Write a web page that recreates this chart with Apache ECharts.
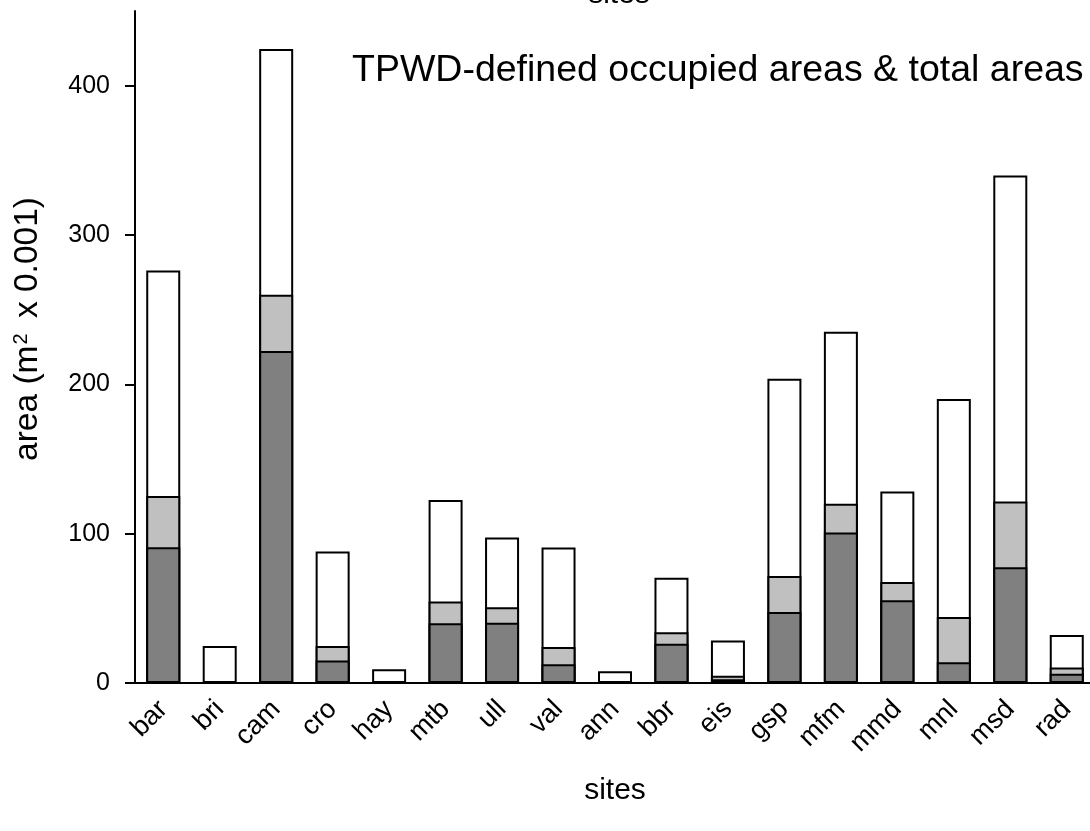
<!DOCTYPE html>
<html>
<head>
<meta charset="utf-8">
<script src="https://cdn.jsdelivr.net/npm/echarts@6/dist/echarts.min.js"></script>
<style>
    html, body { margin: 0; padding: 0; background: #fff; }
    #chart { width: 1090px; height: 831px; }
</style>
</head>
<body>
<div id="chart"></div>
<script>
// sites along the x axis
var sites = ['bar', 'bri', 'cam', 'cro', 'hay', 'mtb', 'ull', 'val', 'ann',
    'bbr', 'eis', 'gsp', 'mfm', 'mmd', 'mnl', 'msd', 'rad'];
// total areas (white bars)
var totalArea = [276.3, 24.8, 424.6, 88, 9.2, 122.6, 97.4, 90.8, 7.8,
    70.4, 28.4, 203.7, 235.2, 128.2, 190.1, 339.9, 32.2];
// occupied areas (light grey)
var occupiedArea = [125.3, 1.2, 260, 24.8, 0.6, 54.5, 50.7, 24.1, 0.3,
    34, 4.9, 71.7, 120, 67.7, 44.2, 121.5, 10.3];
// TPWD-defined areas (dark grey)
var definedArea = [90.9, 0.8, 222.4, 15, 0.4, 40, 40.4, 12.5, 0.2,
    26.3, 2.5, 47.6, 100.7, 55.4, 13.9, 77.5, 6.2];
var yTicks = [0, 100, 200, 300, 400];

var font = '"Liberation Sans", Arial, sans-serif';
var chart = echarts.init(document.getElementById('chart'));

function barSeries(name, data, color) {
    return {
        name: name,
        type: 'bar',
        data: data,
        barWidth: 34,
        barGap: '-100%',
        itemStyle: {color: color, borderColor: '#000', borderWidth: 2},
        emphasis: {disabled: true},
        animation: false
    };
}

var option = {
    backgroundColor: '#fff',
    textStyle: {fontFamily: font, color: '#000'},
    graphic: [
        {
            // top label, mostly off the page
            type: 'text', x: 619, y: 10,
            style: {text: 'sites', font: '30px ' + font, fill: '#000',
                textAlign: 'center', textVerticalAlign: 'bottom'}
        },
        {
            type: 'text', x: 352, y: 90,
            style: {text: 'TPWD-defined occupied areas & total areas', font: '37.5px ' + font, fill: '#000',
                textAlign: 'left', textVerticalAlign: 'bottom'}
        },
        {
            type: 'text', x: 28, y: 329, rotation: Math.PI / 2,
            style: {
                text: 'area (m{sup|2} x 0.001)',
                font: '33.5px ' + font, fill: '#000',
                textAlign: 'center', textVerticalAlign: 'middle',
                rich: {sup: {fontSize: 20, fontFamily: font, verticalAlign: 'top', padding: [0, 6, 0, 1]}}
            }
        }
    ],
    grid: {left: 135, top: 11, width: 960, height: 672, containLabel: false, outerBoundsMode: 'none'},
    xAxis: {
        type: 'category',
        data: sites,
        name: 'sites',
        nameLocation: 'middle',
        nameGap: 93,
        nameTextStyle: {fontSize: 30, color: '#000', fontFamily: font},
        axisLine: {lineStyle: {color: '#000', width: 2}},
        axisTick: {alignWithLabel: true, length: 10, lineStyle: {color: '#000', width: 2}},
        axisLabel: {rotate: 45, fontSize: 27, color: '#000', margin: 22, padding: [14, 0, 0, 0], fontFamily: font}
    },
    yAxis: {
        type: 'value',
        min: 0,
        max: 450,
        interval: 100,
        splitLine: {show: false},
        axisLine: {show: true, lineStyle: {color: '#000', width: 2}},
        axisTick: {show: true, length: 10, customValues: yTicks, lineStyle: {color: '#000', width: 2}},
        axisLabel: {fontSize: 25, color: '#000', margin: 25, customValues: yTicks, fontFamily: font}
    },
    series: [
        barSeries('total', totalArea, '#ffffff'),
        barSeries('occupied', occupiedArea, '#c0c0c0'),
        barSeries('defined', definedArea, '#808080')
    ]
};

chart.setOption(option);
</script>
</body>
</html>
